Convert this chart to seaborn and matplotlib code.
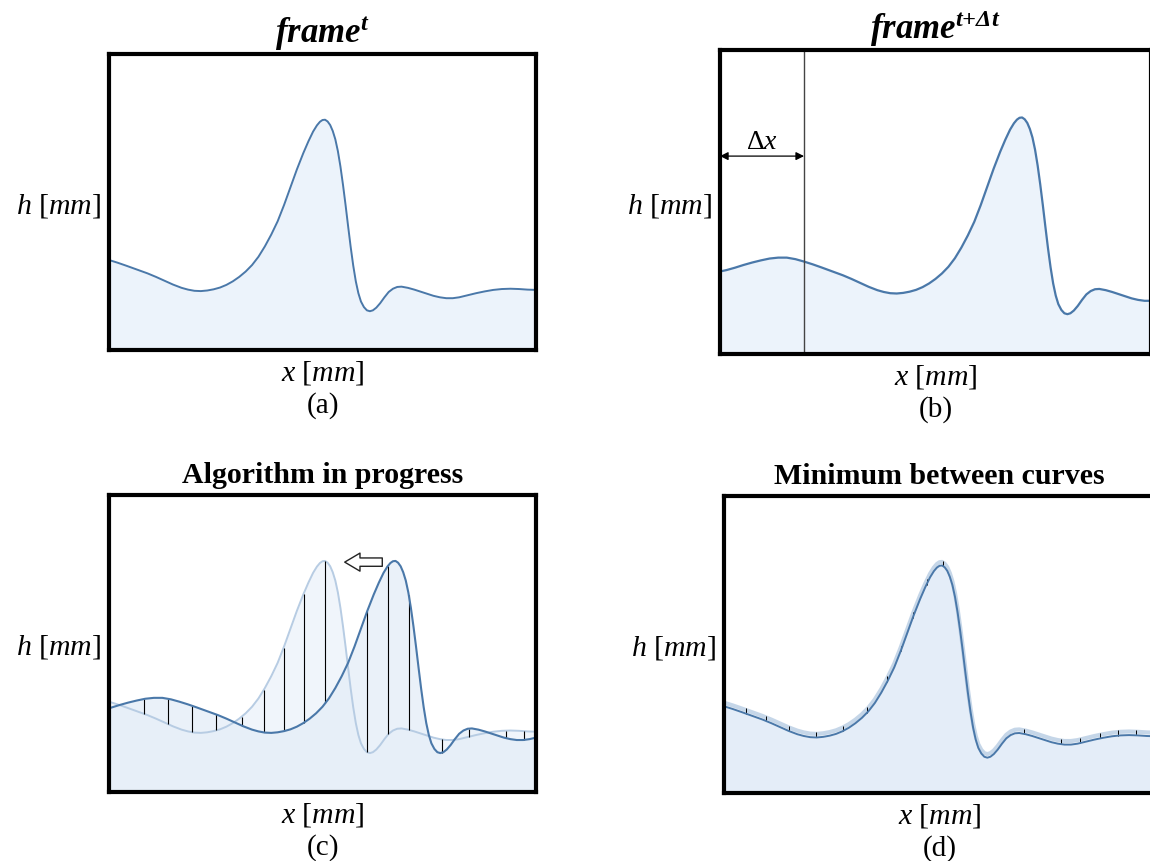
import numpy as np
import matplotlib
matplotlib.use("Agg")
import matplotlib.pyplot as plt
import seaborn as sns

# ---------------- data (fractions of the panel width / height) ----------------
profile_x = [-0.20, -0.18, -0.16, -0.14, -0.12, -0.10, -0.08, -0.06, -0.04, -0.02,
             0.00, 0.02, 0.04, 0.065, 0.09, 0.11, 0.13, 0.15, 0.17, 0.185,
             0.20, 0.215, 0.23, 0.245, 0.26, 0.275, 0.29, 0.305, 0.32, 0.335,
             0.35, 0.365, 0.38, 0.395, 0.41, 0.425, 0.44, 0.455, 0.467, 0.478,
             0.487, 0.494, 0.50, 0.506, 0.512, 0.518, 0.524, 0.530, 0.536, 0.542,
             0.548, 0.554, 0.560, 0.566, 0.572, 0.578, 0.584, 0.590, 0.597, 0.604,
             0.611, 0.618, 0.626, 0.635, 0.645, 0.655, 0.665, 0.675, 0.685, 0.70,
             0.715, 0.73, 0.745, 0.76, 0.775, 0.79, 0.805, 0.82, 0.84, 0.86,
             0.88, 0.90, 0.92, 0.94, 0.96, 0.98, 1.00]
profile_h = [0.270, 0.276, 0.284, 0.293, 0.301, 0.308, 0.314, 0.317, 0.317, 0.312,
             0.304, 0.295, 0.285, 0.272, 0.259, 0.247, 0.234, 0.221, 0.210, 0.204,
             0.200, 0.199, 0.201, 0.205, 0.211, 0.220, 0.232, 0.247, 0.265, 0.287,
             0.315, 0.350, 0.390, 0.435, 0.490, 0.550, 0.610, 0.665, 0.705, 0.738,
             0.759, 0.771, 0.777, 0.778, 0.772, 0.760, 0.740, 0.712, 0.672, 0.620,
             0.558, 0.490, 0.418, 0.348, 0.285, 0.232, 0.192, 0.164, 0.145, 0.134,
             0.131, 0.134, 0.143, 0.158, 0.178, 0.196, 0.207, 0.213, 0.214, 0.210,
             0.204, 0.197, 0.190, 0.183, 0.178, 0.175, 0.175, 0.178, 0.185, 0.192,
             0.198, 0.203, 0.206, 0.207, 0.206, 0.204, 0.203]

shift_b = 0.195          # displacement Δx shown in panel (b)
shift_c = 0.165          # displacement of the moving curve in panel (c)
offset_d = 0.012         # residual gap between the curves in panel (d)

lines_c = [0.081, 0.138, 0.194, 0.251, 0.311, 0.362, 0.409, 0.456, 0.507,
           0.605, 0.654, 0.702, 0.780, 0.844, 0.929, 0.972]
ticks_d = [0.051, 0.098, 0.150, 0.214, 0.276, 0.332, 0.379, 0.410, 0.438,
           0.470, 0.509, 0.697, 0.782, 0.825, 0.872, 0.915, 0.957]

titles = [r"$\mathbf{frame}^{\mathbf{t}}$", r"$\mathbf{frame}^{\mathbf{t{+}\Delta t}}$",
          "Algorithm in progress", "Minimum between curves"]
panel_tags = ["(a)", "(b)", "(c)", "(d)"]
xlabel = r"$x\ [mm]$"
ylabel = r"$h\ [mm]$"

# ---------------- style ----------------
sns.set_theme(style="white")
plt.rcParams["font.family"] = ["Liberation Serif", "DejaVu Serif"]
plt.rcParams["text.color"] = "black"
plt.rcParams["mathtext.fontset"] = "custom"
plt.rcParams["mathtext.rm"] = "Liberation Serif"
plt.rcParams["mathtext.it"] = "Liberation Serif:italic"
plt.rcParams["mathtext.bf"] = "Liberation Serif:bold:italic"

DARK = "#4a78a9"
LIGHT = "#b7cce3"
FILL_A = "#ecf3fb"
FILL_C = "#e4edf8"

px = np.array(profile_x)
ph = np.array(profile_h)

W, H = 1150, 862
fig = plt.figure(figsize=(W / 100, H / 100), dpi=100)


def add_axes(l, t, r, b):
    return fig.add_axes([l / W, 1 - b / H, (r - l) / W, (b - t) / H])


axes = [add_axes(109, 55, 536, 351), add_axes(720, 51, 1151, 355),
        add_axes(109, 496, 536, 793), add_axes(724, 497, 1155, 794)]

for i, ax in enumerate(axes):
    ax.set_xlim(0, 1)
    ax.set_ylim(0, 1)
    ax.set_xticks([])
    ax.set_yticks([])
    for s in ax.spines.values():
        s.set_visible(True)
        s.set_color("black")
        s.set_linewidth(3.0)
    ax.set_xlabel("")
    ax.set_ylabel("")

# panel (a)
ax = axes[0]
ax.fill_between(px, ph, 0, color=FILL_A, lw=0)
sns.lineplot(x=px, y=ph, ax=ax, color=DARK, lw=1.4, sort=False)

# panel (b)
ax = axes[1]
xb = px + shift_b
ax.fill_between(xb, ph, 0, color=FILL_A, lw=0)
sns.lineplot(x=xb, y=ph, ax=ax, color=DARK, lw=1.6, sort=False)
ax.axvline(shift_b, color="#444444", lw=1.0)
ax.annotate("", xy=(0, 0.651), xytext=(shift_b, 0.651), xycoords="data",
            arrowprops=dict(arrowstyle="<|-|>", color="black", lw=0.9,
                            shrinkA=0, shrinkB=0, mutation_scale=12))
ax.text(shift_b / 2, 0.70, r"$\Delta x$", ha="center", va="center", fontsize=20)

# panel (c)
ax = axes[2]
xc = px + shift_c
ax.fill_between(px, ph, 0, color=FILL_C, alpha=0.55, lw=0)
ax.fill_between(xc, ph, 0, color=FILL_C, alpha=0.75, lw=0)
sns.lineplot(x=px, y=ph, ax=ax, color=LIGHT, lw=1.4, sort=False)
lc = np.array(lines_c)
y_light = np.interp(lc, px, ph)
y_dark = np.interp(lc - shift_c, px, ph)
ax.vlines(lc, np.minimum(y_light, y_dark), np.maximum(y_light, y_dark),
          color="black", lw=0.8)
sns.lineplot(x=xc, y=ph, ax=ax, color=DARK, lw=1.5, sort=False)
ax.annotate("", xy=(0.552, 0.774), xytext=(0.64, 0.774), xycoords="axes fraction",
            arrowprops=dict(arrowstyle="simple,head_length=0.55,head_width=0.65,tail_width=0.3",
                            fc="white", ec="#222222", lw=1.0, shrinkA=0, shrinkB=0,
                            mutation_scale=20))

# panel (d)
ax = axes[3]
ax.fill_between(px, ph - offset_d, 0, color=FILL_C, lw=0)
sns.lineplot(x=px, y=ph, ax=ax, color=LIGHT, lw=3.0, alpha=0.8, sort=False)
td = np.array(ticks_d)
yt = np.interp(td, px, ph)
ax.vlines(td, yt - offset_d, yt + 0.006, color="black", lw=0.7)
sns.lineplot(x=px, y=ph - offset_d, ax=ax, color=DARK, lw=1.4, sort=False)

# texts
for i, ax in enumerate(axes):
    bbox = ax.get_position()
    hpx = bbox.height * H
    wpx = bbox.width * W
    if i < 2:
        ax.text(0.5, 1 + 12 / hpx, titles[i], transform=ax.transAxes, ha="center",
                va="baseline", fontsize=25, color="black")
    else:
        ax.text(0.5, 1 + 13 / hpx, titles[i], transform=ax.transAxes, ha="center",
                va="baseline", fontsize=21.5, fontweight="bold", color="black")
    ax.text(-8 / wpx, 0.49, ylabel, transform=ax.transAxes, ha="right",
            va="center", fontsize=21.5, color="black")
    ax.text(0.5, -22 / hpx, xlabel, transform=ax.transAxes, ha="center",
            va="center", fontsize=21.5, color="black")
    ax.text(0.5, -55 / hpx, panel_tags[i], transform=ax.transAxes, ha="center",
            va="center", fontsize=21, color="black")

fig.savefig("out.png", dpi=100)
